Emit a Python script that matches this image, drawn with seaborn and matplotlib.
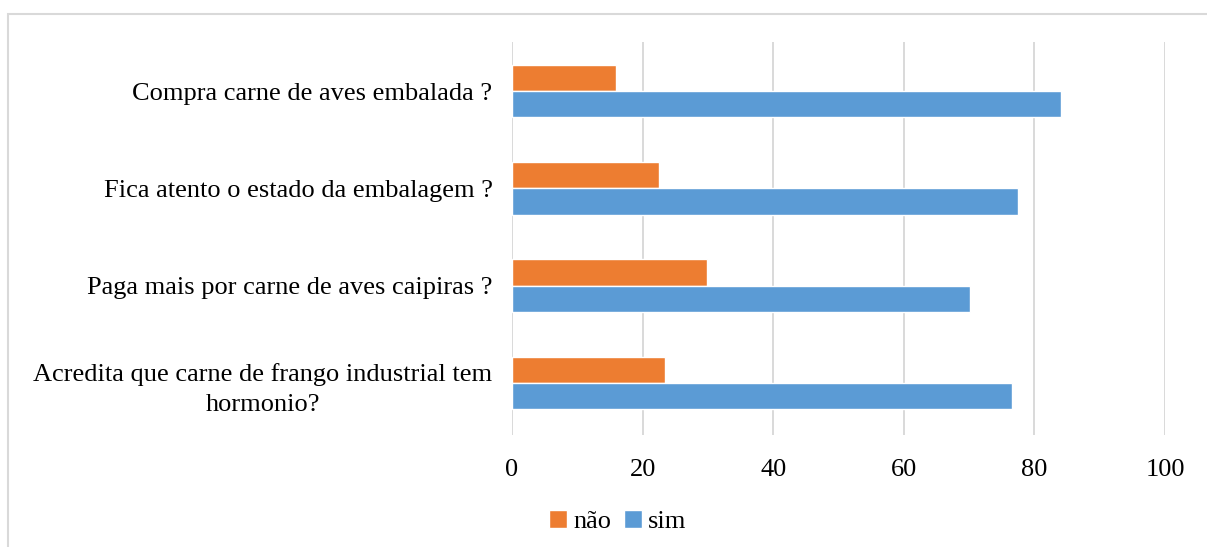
import pandas as pd
import seaborn as sns
from matplotlib import pyplot as plt
from matplotlib.patches import Rectangle

perguntas = [
    "Compra carne de aves embalada ?",
    "Fica atento o estado da embalagem ?",
    "Paga mais por carne de aves caipiras ?",
    "Acredita que carne de frango industrial tem\nhormonio?",
]
nao = [16.0, 22.5, 29.9, 23.4]
sim = [84.0, 77.5, 70.1, 76.6]
ticks = [0, 20, 40, 60, 80, 100]

df = pd.DataFrame({
    "pergunta": perguntas * 2,
    "valor": nao + sim,
    "resposta": ["não"] * len(nao) + ["sim"] * len(sim),
})

sns.set_style("white")
plt.rcParams["font.family"] = ["Liberation Serif", "DejaVu Serif"]
plt.rcParams["text.color"] = "black"
plt.rcParams["xtick.color"] = "black"
plt.rcParams["ytick.color"] = "black"

fig = plt.figure(figsize=(12.07, 5.47), dpi=100)
ax = fig.add_axes([512 / 1207, 1 - 435 / 547, (1165 - 512) / 1207, (435 - 42) / 547])

sns.barplot(data=df, y="pergunta", x="valor", hue="resposta", orient="h",
            palette={"não": "#ED7D31", "sim": "#5B9BD5"}, width=0.54,
            saturation=1, ax=ax, zorder=3)

ax.set_xlim(0, 100)
ax.set_ylim(3.536, -0.505)
ax.set_xticks(ticks)
ax.set_xticklabels([str(t) for t in ticks], fontsize=19)
ax.xaxis.grid(True, color="#d9d9d9", linewidth=1.4, zorder=0)
ax.yaxis.grid(False)
for s in ax.spines.values():
    s.set_visible(False)
ax.tick_params(axis="x", length=0, pad=17)
ax.tick_params(axis="y", length=0, pad=14)
for lab in ax.get_yticklabels():
    lab.set_fontsize(19)
    lab.set_multialignment("center")
    lab.set_linespacing(1.5)
ax.set_xlabel("")
ax.set_ylabel("")

ax.get_legend().remove()
handles, labels = ax.get_legend_handles_labels()
fig.legend(handles, labels, loc="center", bbox_to_anchor=(0.512, 0.046), ncol=2,
           frameon=False, fontsize=19, handlelength=0.65, handleheight=0.65,
           handletextpad=0.25, columnspacing=0.5)

fig.patches.append(Rectangle((8 / 1207, -0.01), 1.0, 1 - 14 / 547 + 0.01,
                             transform=fig.transFigure, fill=False,
                             edgecolor="#d9d9d9", linewidth=1.5))

fig.savefig("out.png", dpi=100)
